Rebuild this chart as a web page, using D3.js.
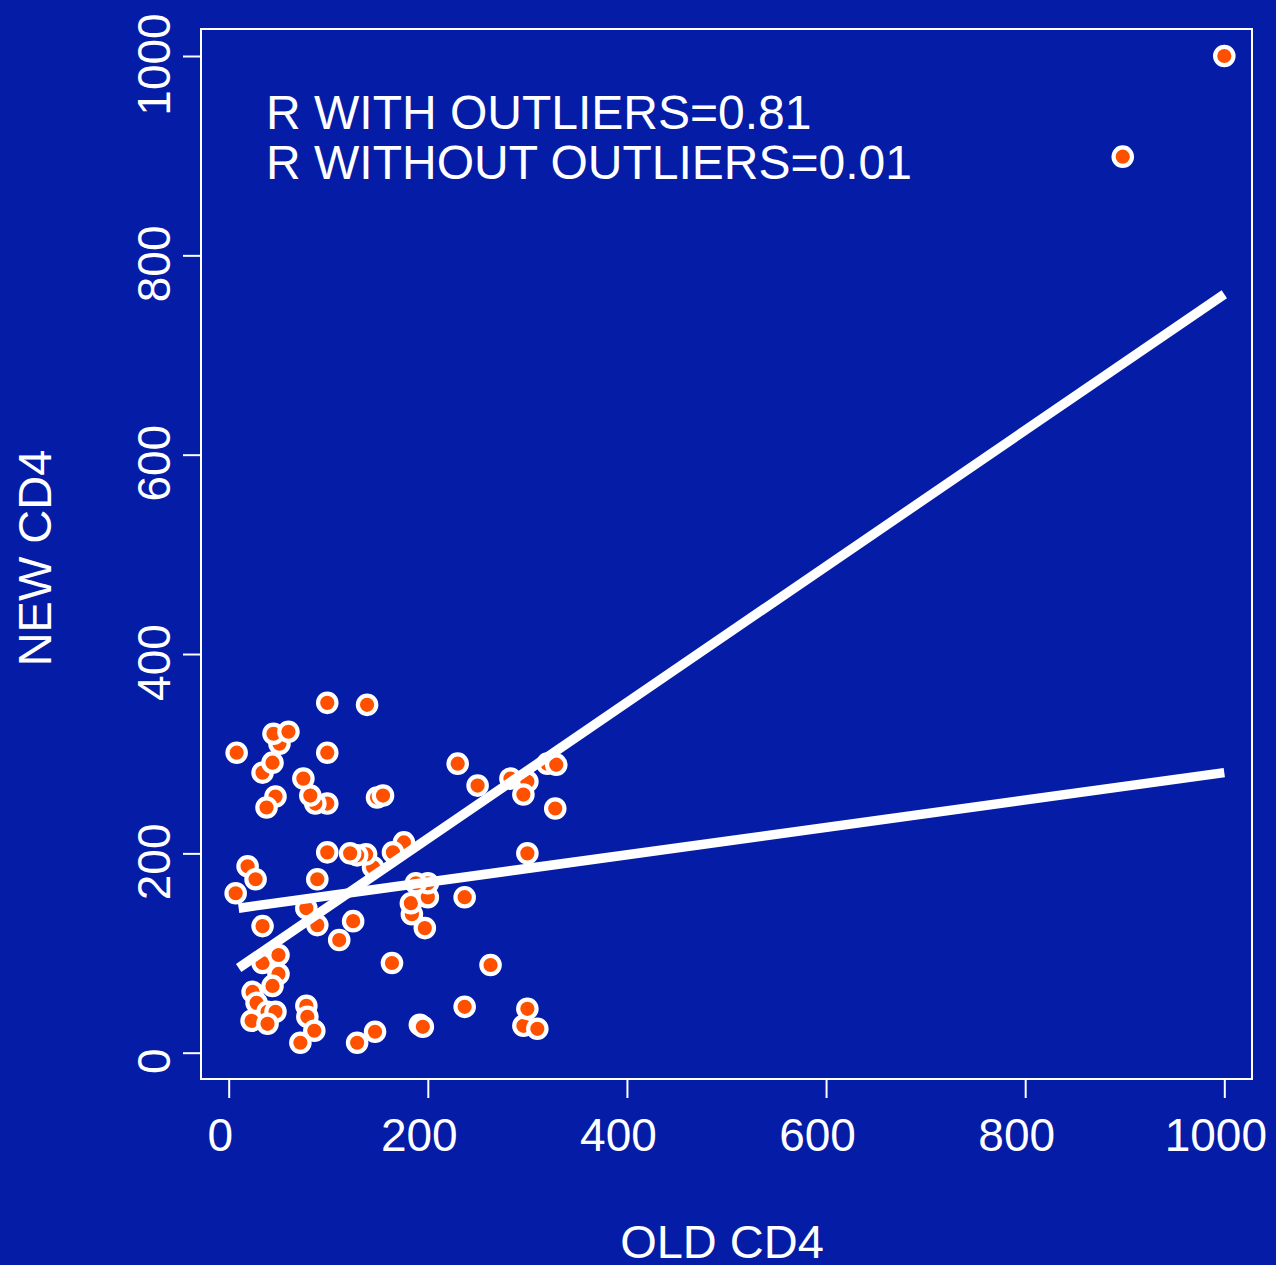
<!DOCTYPE html>
<html>
<head>
<meta charset="utf-8">
<script src="https://cdn.jsdelivr.net/npm/d3@7"></script>
<style>
  html, body { margin: 0; padding: 0; background: #041ca6; }
  svg { display: block; }
  text { font-family: "Liberation Sans", Arial, Helvetica, sans-serif; fill: #ffffff; }
</style>
</head>
<body>
<svg id="chart" width="1276" height="1265"></svg>
<script>
// ---- data ----
const oldCD4 = [8, 7, 19, 27, 34, 34, 50, 50, 44, 24, 28, 39, 47, 23, 39, 78, 79, 86, 72, 129,
  147, 164, 192, 195, 237, 263, 296, 300, 310, 237, 197, 184, 183, 200, 200, 188, 176, 165,
  145, 138, 129, 122, 99, 125, 111, 89, 78, 89, 99, 87, 82, 75, 99, 99, 139, 149, 155, 47,
  38, 34, 44, 51, 45, 60, 230, 250, 283, 300, 296, 320, 329, 328, 300, 898, 1000];
const newCD4 = [301, 160, 187, 174, 127, 90, 98, 79, 67, 61, 50, 41, 41, 32, 29, 47, 36, 22, 10, 10,
  21, 90, 28, 26, 46, 88, 27, 44, 24, 156, 125, 139, 150, 156, 170, 170, 211, 201,
  186, 199, 198, 200, 201, 132, 113, 128, 145, 174, 250, 250, 258, 275, 301, 351, 349, 256, 258, 257,
  246, 281, 291, 310, 320, 322, 290, 268, 275, 272, 259, 290, 289, 245, 200, 899, 1000];
const fitWith = [{x: 10, y: 85}, {x: 1000, y: 761}];
const fitWithout = [{x: 10, y: 145}, {x: 1000, y: 281}];
const xTicks = [0, 200, 400, 600, 800, 1000];
const yTicks = [0, 200, 400, 600, 800, 1000];
const annotations = ["R WITH OUTLIERS=0.81", "R WITHOUT OUTLIERS=0.01"];
const xTitle = "OLD CD4";
const yTitle = "NEW CD4";

// ---- layout ----
const box = {left: 201, top: 29, right: 1252, bottom: 1079};
const svg = d3.select("#chart");
svg.append("rect").attr("x", 0).attr("y", 0).attr("width", 1276).attr("height", 1265).attr("fill", "#041ca6");

const x = d3.scaleLinear().domain([0, 1000]).range([228.7, 1224.3]);
const y = d3.scaleLinear().domain([0, 1000]).range([1052.7, 56]);

// points
const pts = oldCD4.map((d, i) => ({x: d, y: newCD4[i]}));
svg.append("g").selectAll("circle").data(pts).join("circle")
  .attr("cx", d => x(d.x)).attr("cy", d => y(d.y)).attr("r", 9.2)
  .attr("fill", "#ff5000").attr("stroke", "#ffffff").attr("stroke-width", 4.2);

// fit lines
const line = d3.line().x(d => x(d.x)).y(d => y(d.y));
[fitWith, fitWithout].forEach(f => {
  svg.append("path").attr("d", line(f)).attr("fill", "none")
    .attr("stroke", "#ffffff").attr("stroke-width", 9.5).attr("stroke-linecap", "butt");
});

// box
svg.append("rect").attr("x", box.left).attr("y", box.top)
  .attr("width", box.right - box.left).attr("height", box.bottom - box.top)
  .attr("fill", "none").attr("stroke", "#ffffff").attr("stroke-width", 2);

// x axis
const gx = svg.append("g").attr("transform", `translate(0,${box.bottom})`)
  .call(d3.axisBottom(x).tickValues(xTicks).tickSize(19).tickFormat(d3.format("d")));
gx.select(".domain").remove();
gx.selectAll("line").attr("stroke", "#ffffff").attr("stroke-width", 2);
gx.selectAll("text").attr("y", 72).attr("dy", 0).attr("dx", -9)
  .attr("fill", "#ffffff").style("font-size", "46px")
  .style("font-family", "'Liberation Sans', Arial, sans-serif");

// y axis
const gy = svg.append("g").attr("transform", `translate(${box.left},0)`)
  .call(d3.axisLeft(y).tickValues(yTicks).tickSize(18).tickFormat(d3.format("d")));
gy.select(".domain").remove();
gy.selectAll("line").attr("stroke", "#ffffff").attr("stroke-width", 2);
gy.selectAll("text").attr("x", 0).attr("y", 0).attr("dy", 0)
  .attr("transform", "translate(-31,8) rotate(-90)")
  .attr("text-anchor", "middle")
  .attr("fill", "#ffffff").style("font-size", "46px")
  .style("font-family", "'Liberation Sans', Arial, sans-serif");

// titles
svg.append("text").attr("x", 722).attr("y", 1258).attr("text-anchor", "middle")
  .style("font-size", "47px").text(xTitle);
svg.append("text").attr("transform", "translate(51,558) rotate(-90)").attr("text-anchor", "middle")
  .style("font-size", "47px").text(yTitle);

// annotations
annotations.forEach((t, i) => {
  svg.append("text").attr("x", 266).attr("y", 129 + i * 50)
    .style("font-size", "48px").text(t);
});
</script>
</body>
</html>
